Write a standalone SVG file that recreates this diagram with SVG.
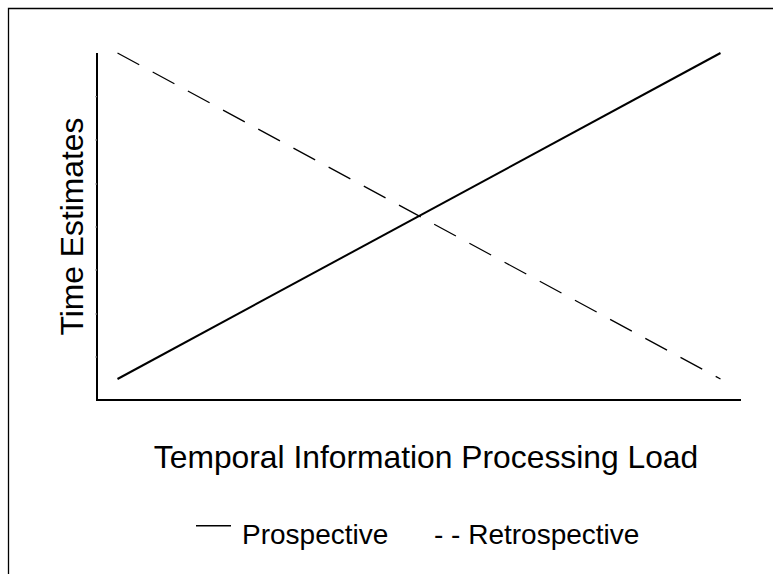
<svg xmlns="http://www.w3.org/2000/svg" width="773" height="574" viewBox="0 0 773 574">
<style>
text{font-family:"Liberation Sans",Arial,sans-serif;fill:#000}
.big{font-size:31.8px}
.leg{font-size:28px}
.ax{stroke:#000;stroke-width:2;fill:none}
.tick{stroke:#999;stroke-width:1}
</style>
<rect width="773" height="574" fill="#fff"/>
<g id="frame"><path d="M8.5,574 V8.5 H773" fill="none" stroke="#000" stroke-width="1.3"/></g>
<g id="axes">
<path class="ax" d="M97,53 V400 H741"/>
<g class="tick">
<line x1="95" y1="96.7" x2="97" y2="96.7"/>
<line x1="95" y1="140" x2="97" y2="140"/>
<line x1="95" y1="184" x2="97" y2="184"/>
<line x1="95" y1="227" x2="97" y2="227"/>
<line x1="95" y1="270" x2="97" y2="270"/>
<line x1="95" y1="314" x2="97" y2="314"/>
<line x1="95" y1="357" x2="97" y2="357"/>
</g>
</g>
<g id="connectors">
<line id="prospective" x1="117.5" y1="379" x2="720.5" y2="53" stroke="#000" stroke-width="2"/>
<line id="retrospective" x1="117.5" y1="53" x2="720.5" y2="379" stroke="#000" stroke-width="1.3" stroke-dasharray="24.7 15.3"/>
</g>
<g id="ylabel"><text class="big" transform="translate(83,226.5) rotate(-90)" text-anchor="middle">Time Estimates</text></g>
<g id="xlabel"><text class="big" x="426" y="468" text-anchor="middle">Temporal Information Processing Load</text></g>
<g id="legend">
<line x1="196" y1="525.7" x2="231" y2="525.7" stroke="#000" stroke-width="1.5"/>
<text class="leg" x="242" y="544">Prospective</text>
<text class="leg" x="434" y="544">- - Retrospective</text>
</g>
</svg>
